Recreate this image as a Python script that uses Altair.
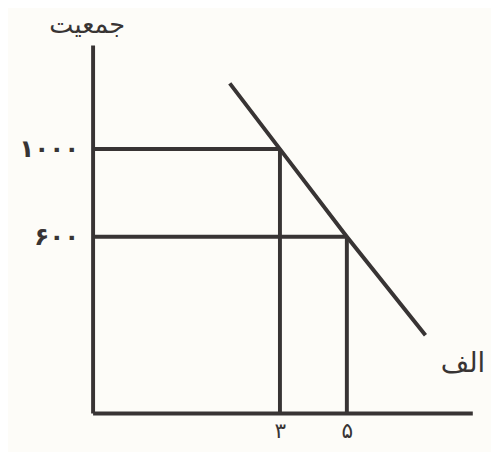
import altair as alt
import pandas as pd

# Values
x_ticks = [3, 5]
y_ticks = [1000, 600]
x_labels = ["۳", "۵"]
y_labels = ["۱۰۰۰", "۶۰۰"]
line_x = [1.5, 3, 5, 7.35]
line_y = [1300, 1000, 600, 150]
y_title = "جمعیت"
x_title = "الف"

INK = "#383434"
BG = "#fdfcf8"
FONT = "DejaVu Sans"

x_dom = [-2.6, 8.75]
y_dom = [-205, 1475]

xs = alt.Scale(domain=x_dom, nice=False, zero=False)
ys = alt.Scale(domain=y_dom, nice=False, zero=False)

def label_expr(vals, labs):
    parts = " : ".join(f"datum.value == {v} ? '{l}'" for v, l in zip(vals, labs))
    return parts + " : ''"

line_df = pd.DataFrame({"x": line_x, "y": line_y})
pts = pd.DataFrame({"x": x_ticks, "y": y_ticks})

xaxis = alt.Axis(values=x_ticks, labelExpr=label_expr(x_ticks, x_labels), ticks=False,
                 grid=False, domainWidth=4, domainColor=INK, labelFontSize=22,
                 labelColor=INK, labelFont=FONT, labelPadding=8, title=x_title,
                 titleFont=FONT, titleFontSize=28, titleFontWeight="normal", titleColor=INK,
                 titleX=376, titleY=-50, titleAlign="center", titleBaseline="middle")
yaxis = alt.Axis(values=y_ticks, labelExpr=label_expr(y_ticks, y_labels), ticks=False,
                 grid=False, domainWidth=4, domainColor=INK, labelFontSize=25,
                 labelColor=INK, labelFont=FONT, labelPadding=14, labelFontWeight="bold",
                 title=y_title, titleFont=FONT, titleFontSize=26, titleFontWeight="normal",
                 titleColor=INK, titleAngle=0, titleX=-6, titleY=-21,
                 titleAlign="center", titleBaseline="middle")

base_axes = alt.Chart(pts).mark_point(opacity=0).encode(
    x=alt.X("x:Q", scale=xs, axis=xaxis),
    y=alt.Y("y:Q", scale=ys, axis=yaxis),
)

hrules = alt.Chart(pts).mark_rule(color=INK, strokeWidth=4).encode(
    x=alt.X("x:Q", scale=xs), x2=alt.value(0), y=alt.Y("y:Q", scale=ys)
)
vrules = alt.Chart(pts).mark_rule(color=INK, strokeWidth=4).encode(
    x=alt.X("x:Q", scale=xs), y=alt.Y("y:Q", scale=ys), y2=alt.value(374)
)
demand = alt.Chart(line_df).mark_line(color=INK, strokeWidth=4).encode(
    x=alt.X("x:Q", scale=xs), y=alt.Y("y:Q", scale=ys)
)

chart = alt.layer(base_axes, hrules, vrules, demand).properties(
    width=386, height=374,
    autosize=alt.AutoSizeParams(type="none"),
    padding={"left": 86, "top": 34, "right": 19, "bottom": 36},
    background=BG,
).configure_view(stroke=None)

chart.save("out.html", embed_options={"renderer": "svg", "actions": False})
